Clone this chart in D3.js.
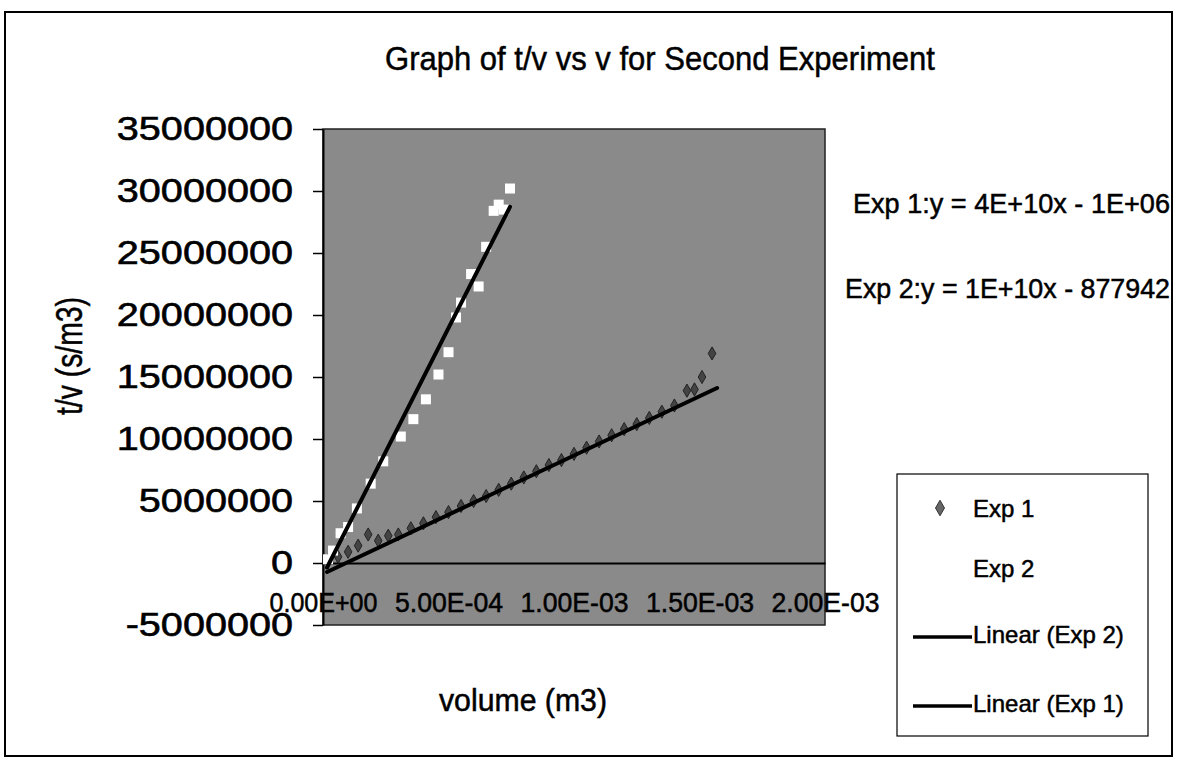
<!DOCTYPE html>
<html><head><meta charset="utf-8">
<script src="https://cdn.jsdelivr.net/npm/d3@7/dist/d3.min.js"></script>
<style>body{margin:0;background:#fff}svg{display:block}</style>
</head><body>
<svg id="chart" width="1177" height="760"></svg>
<script>
// ---- data ----
const titleText = "Graph of t/v vs v for Second Experiment";
const xTitle = "volume (m3)";
const yTitle = "t/v (s/m3)";
const xTickValues = [0, 0.0005, 0.001, 0.0015, 0.002];
const xTickLabels = ["0.00E+00", "5.00E-04", "1.00E-03", "1.50E-03", "2.00E-03"];
const yTickValues = [-5000000, 0, 5000000, 10000000, 15000000, 20000000, 25000000, 30000000, 35000000];

// Exp 1 (dark diamonds, shallow)
const exp1X = [0.00002,0.00006,0.0001,0.00014,0.00018,0.00022,0.00026,0.0003,0.00035,0.0004,0.00045,0.0005,0.00055,0.0006,0.00065,0.0007,0.00075,0.0008,0.00085,0.0009,0.00095,0.001,0.00105,0.0011,0.00115,0.0012,0.00125,0.0013,0.00135,0.0014,0.00145,0.00148,0.00151,0.00155];
const exp1Y = [200000,500000,900000,1400000,2300000,1800000,2200000,2300000,2800000,3200000,3700000,4100000,4600000,5000000,5400000,5900000,6400000,6900000,7400000,7900000,8300000,8800000,9300000,9800000,10300000,10800000,11200000,11700000,12200000,12700000,13900000,14000000,15000000,16900000];
// Exp 2 (white squares, steep)
const exp2X = [0.00002,0.00004,0.00007,0.0001,0.000135,0.00019,0.00024,0.00031,0.00036,0.00041,0.00046,0.0005,0.00053,0.00055,0.00059,0.00062,0.00065,0.00068,0.0007,0.00072,0.000745];
const exp2Y = [300000,1000000,2400000,2900000,4400000,6400000,8200000,10200000,11600000,13200000,15200000,17000000,19800000,21000000,23300000,22300000,25500000,28400000,28900000,28500000,30200000];

// trendlines (as shown in the chart)
const trendNames = ["Linear (Exp 2)", "Linear (Exp 1)"];
const trendSlopes = [3.99e10, 9.55e9];
const trendIntercepts = [-1000000, -877942];
const trendXmin = [0.000016, 0.000016];
const trendXmax = [0.000745, 0.00157];

const equationTexts = ["Exp 1:y = 4E+10x - 1E+06", "Exp 2:y = 1E+10x - 877942"];
const legendLabels = ["Exp 1", "Exp 2", "Linear (Exp 2)", "Linear (Exp 1)"];

// ---- drawing ----
const svg = d3.select("#chart");
const FONT = "'Liberation Sans', Arial, sans-serif";
const x = d3.scaleLinear().domain([0, 0.002]).range([323, 825]);
const y = d3.scaleLinear().domain([-5000000, 35000000]).range([625, 129]);

// outer frame
svg.append("rect").attr("x", 5).attr("y", 12).attr("width", 1167).attr("height", 744)
  .attr("fill", "#fff").attr("stroke", "#000").attr("stroke-width", 2);

function txt(g, str, px, py, size, anchor, len) {
  const t = g.append("text").attr("x", px).attr("y", py)
    .attr("font-family", FONT).attr("font-size", size)
    .attr("text-anchor", anchor).attr("fill", "#000")
    .attr("stroke", "#000").attr("stroke-width", 0.5).text(str);
  if (len) t.attr("textLength", len).attr("lengthAdjust", "spacingAndGlyphs");
  return t;
}

// title
txt(svg, titleText, 660, 70, 34, "middle", 550);

// plot area
svg.append("rect").attr("x", x(0)).attr("y", y(35000000))
  .attr("width", x(0.002) - x(0)).attr("height", y(-5000000) - y(35000000))
  .attr("fill", "#8a8a8a").attr("stroke", "#222").attr("stroke-width", 1.5);

// y axis
const yAxis = svg.append("g").attr("transform", `translate(${x(0)},0)`)
  .call(d3.axisLeft(y).tickValues(yTickValues).tickSize(10).tickPadding(20)
    .tickFormat(d => String(d)).tickSizeOuter(0));
yAxis.select(".domain").attr("stroke", "#000").attr("stroke-width", 2);
yAxis.selectAll(".tick line").attr("stroke", "#000").attr("stroke-width", 1.5);
yAxis.selectAll(".tick text").attr("font-family", FONT).attr("font-size", 33).attr("fill", "#000")
  .attr("stroke", "#000").attr("stroke-width", 0.6)
  .each(function () {
    const n = this.getComputedTextLength();
    d3.select(this).attr("textLength", n * 1.2).attr("lengthAdjust", "spacingAndGlyphs");
  });

// x axis at y = 0
const xAxis = svg.append("g").attr("transform", `translate(0,${y(0)})`)
  .call(d3.axisBottom(x).tickValues(xTickValues).tickSize(0).tickPadding(30)
    .tickFormat((d, i) => xTickLabels[i]).tickSizeOuter(0));
xAxis.select(".domain").attr("stroke", "#000").attr("stroke-width", 2);
xAxis.selectAll(".tick text").attr("font-family", FONT).attr("font-size", 27).attr("fill", "#000")
  .attr("stroke", "#000").attr("stroke-width", 0.5)
  .attr("textLength", 108).attr("lengthAdjust", "spacingAndGlyphs");

// axis titles
txt(svg, xTitle, 523, 711, 31, "middle", 168);
svg.append("text").attr("transform", "translate(82,356) rotate(-90)")
  .attr("font-family", FONT).attr("font-size", 36).attr("text-anchor", "middle")
  .attr("fill", "#000").attr("stroke", "#000").attr("stroke-width", 0.5)
  .attr("textLength", 118).attr("lengthAdjust", "spacingAndGlyphs").text(yTitle);

// markers
const diamond = d3.symbol().type(d3.symbolDiamond).size(50);
svg.append("g").selectAll("path").data(exp1X.map((v, i) => [v, exp1Y[i]])).join("path")
  .attr("d", diamond).attr("transform", d => `translate(${x(d[0])},${y(d[1])})`)
  .attr("fill", "#444").attr("stroke", "#222").attr("stroke-width", 1);
svg.append("g").selectAll("rect").data(exp2X.map((v, i) => [v, exp2Y[i]])).join("rect")
  .attr("x", d => x(d[0]) - 5).attr("y", d => y(d[1]) - 5).attr("width", 10).attr("height", 10)
  .attr("fill", "#fff");

// trendlines
trendSlopes.forEach((m, i) => {
  const x0 = trendXmin[i], x1 = trendXmax[i];
  svg.append("line")
    .attr("x1", x(x0)).attr("y1", y(m * x0 + trendIntercepts[i]))
    .attr("x2", x(x1)).attr("y2", y(m * x1 + trendIntercepts[i]))
    .attr("stroke", "#000").attr("stroke-width", 4).attr("stroke-linecap", "round");
});

// equations
txt(svg, equationTexts[0], 853, 213, 27, "start", 317);
txt(svg, equationTexts[1], 845, 298, 27, "start", 325);

// legend
const lg = svg.append("g");
lg.append("rect").attr("x", 897).attr("y", 474).attr("width", 251).attr("height", 262)
  .attr("fill", "#fff").attr("stroke", "#000").attr("stroke-width", 1.2);
const rowY = [508, 568, 634, 703];
lg.append("path").attr("d", d3.symbol().type(d3.symbolDiamond).size(70))
  .attr("transform", `translate(940,${rowY[0]})`).attr("fill", "#666").attr("stroke", "#333");
lg.append("rect").attr("x", 935).attr("y", rowY[1] - 5).attr("width", 10).attr("height", 10).attr("fill", "#fff");
[2, 3].forEach(i => lg.append("line").attr("x1", 913).attr("x2", 972)
  .attr("y1", rowY[i] + 3).attr("y2", rowY[i] + 3).attr("stroke", "#000").attr("stroke-width", 3.5));
legendLabels.forEach((s, i) => txt(lg, s, 973, rowY[i] + 9, 24, "start"));
</script>
</body></html>
